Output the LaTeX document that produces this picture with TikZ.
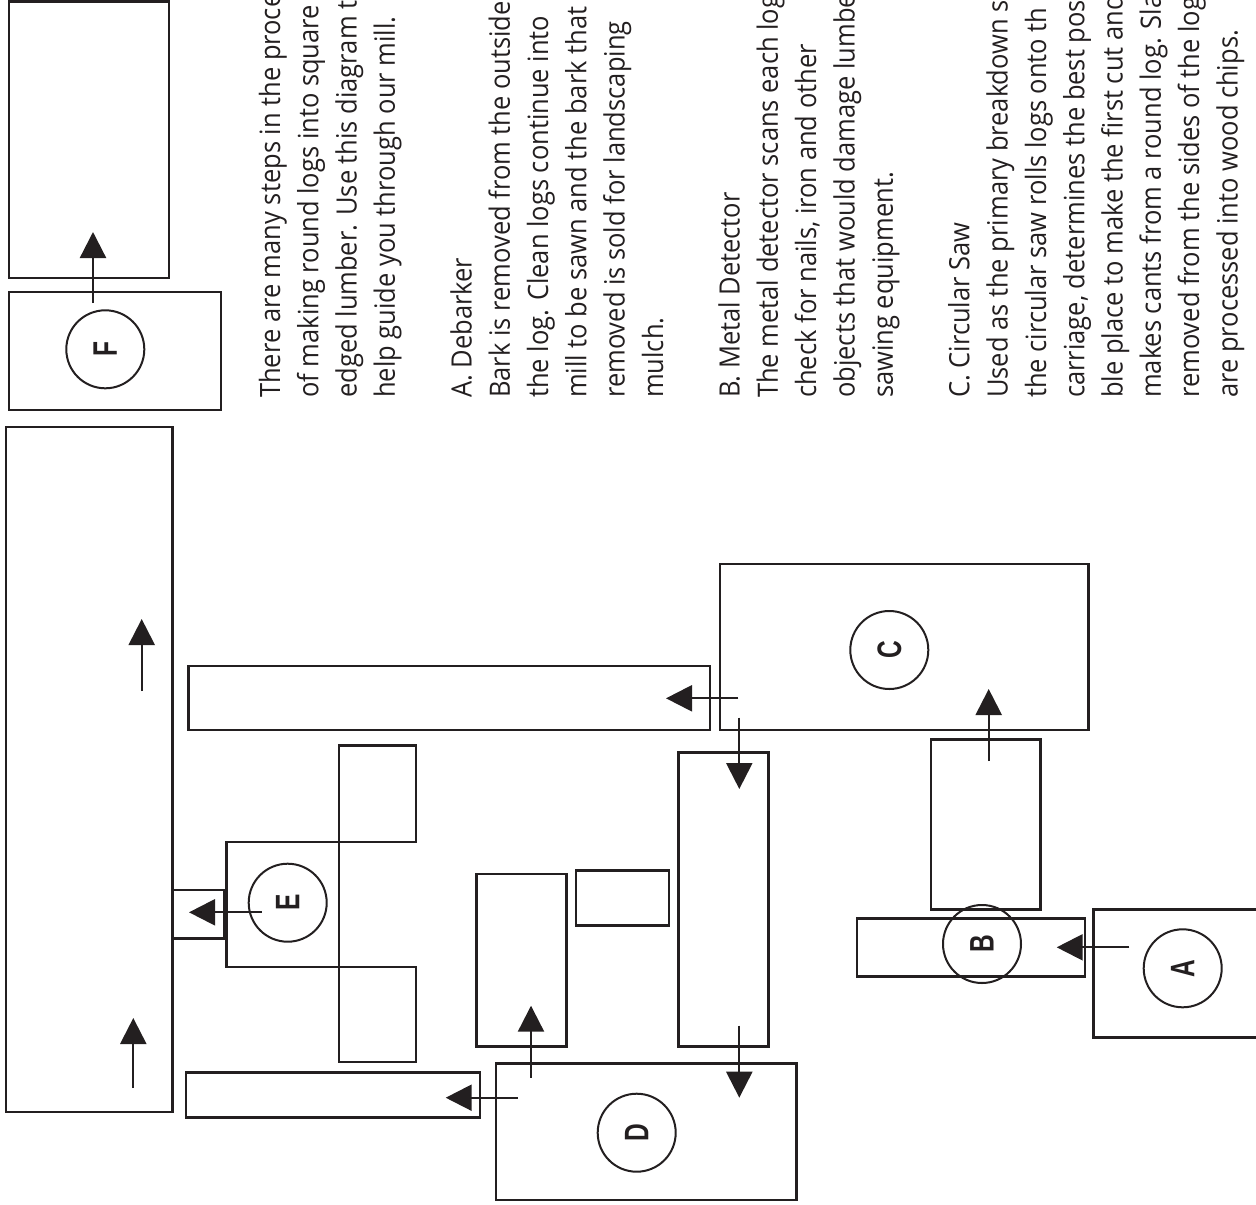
\documentclass[tikz,border=0pt]{standalone}
\usepackage{fontspec}
\setmainfont[FakeStretch=0.91]{Open Sans}
\newfontfamily\labfont[FakeStretch=0.72]{Liberation Sans}
\usetikzlibrary{arrows.meta}
\definecolor{ink}{HTML}{231F20}
\begin{document}
\begin{tikzpicture}[x=1pt,y=-1pt,
  box/.style={draw=ink, line width=2.6pt, rectangle, inner sep=0pt},
  ring/.style={draw=ink, line width=2pt, circle, minimum size=78pt, inner sep=0pt,
    font=\labfont\bfseries\fontsize{34}{34}\selectfont, text=ink, rotate=90},
  flow/.style={draw=ink, line width=2.3pt, -{Triangle[length=26pt,width=26pt]}},
  txt/.style={anchor=base west, rotate=90, inner sep=0pt, text=ink,
    font=\fontsize{28}{38}\selectfont}]
\useasboundingbox (0,0) rectangle (1256,1205);
\clip (0,0) rectangle (1256,1205);

% ---- boxes ----
\node[box, minimum width=160pt,   minimum height=276.5pt] (topR)   at (89,139.75) {};
\node[box, minimum width=212pt,   minimum height=118pt]   (Fbox)   at (115,351) {};
\node[box, minimum width=166.7pt, minimum height=685pt]   (bigL)   at (89.35,769.5) {};
\node[box, minimum width=521.3pt, minimum height=64pt]    (longT)  at (449.35,698) {};
\node[box, minimum width=77pt,    minimum height=96.3pt]  (Esq1)   at (377.5,793.85) {};
\node[box, minimum width=112.3pt, minimum height=125pt]   (Erect)  at (282.85,904.5) {};
\node[box, minimum width=77pt,    minimum height=95pt]    (Esq2)   at (377.5,1014.5) {};
\node[box, minimum width=51.3pt,  minimum height=48.3pt]  (smallE) at (198.35,914.15) {};
\node[box, minimum width=294pt,   minimum height=45pt]    (longB)  at (333,1095.2) {};
\node[box, minimum width=300.7pt, minimum height=136.7pt] (Dbox)   at (646.35,1131.65) {};
\node[box, minimum width=90pt,    minimum height=172.7pt] (Dside)  at (521.7,960.35) {};
\node[box, minimum width=93pt,    minimum height=54.6pt]  (smallR) at (622.5,898) {};
\node[box, minimum width=90pt,    minimum height=294pt]   (vert)   at (723.3,899.7) {};
\node[box, minimum width=368.3pt, minimum height=166pt]   (Cbox)   at (904.15,647) {};
\node[box, minimum width=109.3pt, minimum height=170pt]   (aboveB) at (985.65,824.3) {};
\node[box, minimum width=228pt,   minimum height=58pt]    (Brect)  at (971,947.7) {};
\node[box, minimum width=168.3pt, minimum height=128pt]   (Abox)   at (1177.85,973.3) {};

% ---- circles with letters ----
\node[ring] (cF) at (105.3,349.3) {F};
\node[ring] (cE) at (287.7,902.7) {E};
\node[ring] (cD) at (636.7,1132.7) {D};
\node[ring] (cC) at (889.3,650) {C};
\node[ring] (cB) at (982,944) {B};
\node[ring] (cA) at (1182.7,968.3) {A};

% ---- arrow end points ----
\coordinate (f0) at (93,303);      \coordinate (f1) at (93,232);
\coordinate (l0) at (141.7,691);   \coordinate (l1) at (141.7,619);
\coordinate (m0) at (133.3,1088);  \coordinate (m1) at (133.3,1018);
\coordinate (e0) at (261.7,912.3); \coordinate (e1) at (189,912.3);
\coordinate (cl0) at (738.3,698.3);\coordinate (cl1) at (666,698.3);
\coordinate (cd0) at (739.3,717.7);\coordinate (cd1) at (739.3,789);
\coordinate (vd0) at (739.3,1025.7);\coordinate (vd1) at (739.3,1097.7);
\coordinate (du0) at (531,1077.7); \coordinate (du1) at (531,1005.7);
\coordinate (dl0) at (517.7,1097.7);\coordinate (dl1) at (445.7,1097.7);
\coordinate (bu0) at (988.7,761);  \coordinate (bu1) at (988.7,689);
\coordinate (ab0) at (1129.3,947.3);\coordinate (ab1) at (1056.7,947.3);

\draw[flow] (f0) -- (f1);
\draw[flow] (l0) -- (l1);
\draw[flow] (m0) -- (m1);
\draw[flow] (e0) -- (e1);
\draw[flow] (cl0) -- (cl1);
\draw[flow] (cd0) -- (cd1);
\draw[flow] (vd0) -- (vd1);
\draw[flow] (du0) -- (du1);
\draw[flow] (dl0) -- (dl1);
\draw[flow] (bu0) -- (bu1);
\draw[flow] (ab0) -- (ab1);

% ---- text ----
\node[txt] (t0)  at (280.0,398) {There are many steps in the proce};
\node[txt] (t1)  at (318.3,398) {of making round logs into square};
\node[txt] (t2)  at (356.6,398) {edged lumber. Use this diagram t};
\node[txt] (t3)  at (394.9,398) {help guide you through our mill.};
\node[txt] (t5)  at (471.5,398) {A. Debarker};
\node[txt] (t6)  at (509.8,398) {Bark is removed from the outside};
\node[txt] (t7)  at (548.1,398) {the log. Clean logs continue into};
\node[txt] (t8)  at (586.4,398) {mill to be sawn and the bark that};
\node[txt] (t9)  at (624.7,398) {removed is sold for landscaping};
\node[txt] (t10) at (663.0,398) {mulch.};
\node[txt] (t12) at (739.6,398) {B. Metal Detector};
\node[txt] (t13) at (777.9,398) {The metal detector scans each log};
\node[txt] (t14) at (816.2,398) {check for nails, iron and other};
\node[txt] (t15) at (854.5,398) {objects that would damage lumbe};
\node[txt] (t16) at (892.8,398) {sawing equipment.};
\node[txt] (t18) at (969.4,398) {C. Circular Saw};
\node[txt] (t19) at (1007.7,398) {Used as the primary breakdown s};
\node[txt] (t20) at (1046.0,398) {the circular saw rolls logs onto th};
\node[txt] (t21) at (1084.3,398) {carriage, determines the best pos};
\node[txt] (t22) at (1122.6,398) {ble place to make the first cut and};
\node[txt] (t23) at (1160.9,398) {makes cants from a round log. Sla};
\node[txt] (t24) at (1199.2,398) {removed from the sides of the log};
\node[txt] (t25) at (1237.5,398) {are processed into wood chips.};
\end{tikzpicture}
\end{document}
